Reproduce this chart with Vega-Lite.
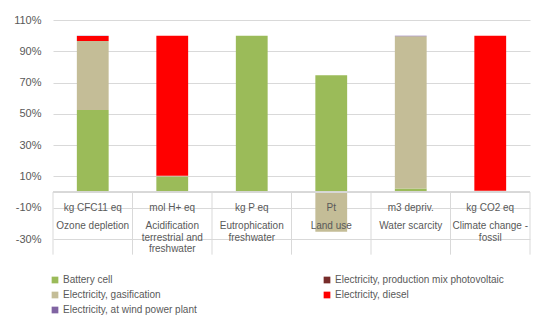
{
  "$schema": "https://vega.github.io/schema/vega-lite/v6.json",
  "width": 477,
  "height": 219,
  "autosize": "none",
  "padding": {"left": 53, "top": 20, "right": 20, "bottom": 88},
  "background": "white",
  "config": {
    "view": {"stroke": null},
    "font": "Liberation Sans",
    "axisY": {
      "title": null,
      "labelOverlap": false,
      "grid": true,
      "gridColor": "#D9D9D9",
      "domain": false,
      "ticks": false,
      "labelFontSize": 11,
      "labelColor": "#595959",
      "labelPadding": 12
    }
  },
  "datasets": {
    "bars": [
      {"cat": "Ozone depletion", "source": "Battery cell", "value": 52.5},
      {"cat": "Ozone depletion", "source": "Electricity, gasification", "value": 44.0},
      {"cat": "Ozone depletion", "source": "Electricity, diesel", "value": 3.2},
      {"cat": "Ozone depletion", "source": "Electricity, at wind power plant", "value": 0.3},
      {"cat": "Acidification", "source": "Battery cell", "value": 9.6},
      {"cat": "Acidification", "source": "Electricity, gasification", "value": 0.8},
      {"cat": "Acidification", "source": "Electricity, diesel", "value": 89.6},
      {"cat": "Eutrophication", "source": "Battery cell", "value": 100},
      {"cat": "Land use", "source": "Battery cell", "value": 74.7},
      {"cat": "Land use", "source": "Electricity, gasification", "value": -25.3},
      {"cat": "Water scarcity", "source": "Battery cell", "value": 2.3},
      {"cat": "Water scarcity", "source": "Electricity, gasification", "value": 97.3},
      {"cat": "Water scarcity", "source": "Electricity, at wind power plant", "value": 0.4},
      {"cat": "Climate change", "source": "Battery cell", "value": 0.3},
      {"cat": "Climate change", "source": "Electricity, gasification", "value": 0.6},
      {"cat": "Climate change", "source": "Electricity, diesel", "value": 99.1}
    ],
    "labels": [
      {"cat": "Ozone depletion", "unit": "kg CFC11 eq", "name": "Ozone depletion"},
      {"cat": "Acidification", "unit": "mol H+ eq", "name": "Acidification\nterrestrial and\nfreshwater"},
      {"cat": "Eutrophication", "unit": "kg P eq", "name": "Eutrophication\nfreshwater"},
      {"cat": "Land use", "unit": "Pt", "name": "Land use"},
      {"cat": "Water scarcity", "unit": "m3 depriv.", "name": "Water scarcity"},
      {"cat": "Climate change", "unit": "kg CO2 eq", "name": "Climate change -\nfossil"}
    ]
  },
  "layer": [
    {
      "data": {"name": "bars"},
      "transform": [
        {"calculate": "indexof(['Battery cell', 'Electricity, production mix photovoltaic', 'Electricity, gasification', 'Electricity, diesel', 'Electricity, at wind power plant'], datum.source)", "as": "stackOrder"}
      ],
      "mark": {"type": "bar", "width": {"band": 0.4}},
      "encoding": {
        "x": {
          "field": "cat",
          "type": "nominal",
          "axis": null,
          "sort": null,
          "scale": {
            "domain": ["Ozone depletion", "Acidification", "Eutrophication", "Land use", "Water scarcity", "Climate change"],
            "paddingInner": 0,
            "paddingOuter": 0
          }
        },
        "y": {
          "field": "value",
          "type": "quantitative",
          "stack": "zero",
          "scale": {"domain": [-30, 110], "nice": false, "zero": false},
          "axis": {"values": [-30, -10, 10, 30, 50, 70, 90, 110], "labelExpr": "datum.value + '%'"}
        },
        "order": {"field": "stackOrder", "type": "quantitative", "sort": "ascending"},
        "color": {
          "field": "source",
          "type": "nominal",
          "scale": {
            "domain": ["Battery cell", "Electricity, production mix photovoltaic", "Electricity, gasification", "Electricity, diesel", "Electricity, at wind power plant"],
            "range": ["#9BBB59", "#772C2A", "#C4BD97", "#FF0000", "#8064A2"]
          },
          "legend": {
            "orient": "none",
            "legendX": -3,
            "legendY": 255,
            "columns": 2,
            "direction": "horizontal",
            "title": null,
            "symbolType": "square",
            "symbolSize": 45,
            "symbolStrokeWidth": 0,
            "labelFontSize": 10,
            "labelColor": "#595959",
            "labelLimit": 300,
            "labelOffset": 3,
            "rowPadding": 5,
            "columnPadding": 125
          }
        }
      }
    },
    {
      "data": {"name": "labels"},
      "mark": {"type": "rule", "color": "#D9D9D9", "strokeWidth": 1},
      "encoding": {
        "y": {"datum": 0, "type": "quantitative", "axis": {"values": [-30, -10, 10, 30, 50, 70, 90, 110], "labelExpr": "datum.value + '%'"}}
      }
    },
    {
      "data": {"name": "labels"},
      "mark": {"type": "rule", "color": "#D9D9D9", "strokeWidth": 1},
      "encoding": {
        "x": {"field": "cat", "type": "nominal", "bandPosition": 0, "axis": null, "sort": null},
        "y": {"datum": 0, "type": "quantitative", "axis": {"values": [-30, -10, 10, 30, 50, 70, 90, 110], "labelExpr": "datum.value + '%'"}},
        "y2": {"datum": -40}
      }
    },
    {
      "data": {"name": "labels"},
      "transform": [{"filter": "datum.cat == 'Climate change'"}],
      "mark": {"type": "rule", "color": "#D9D9D9", "strokeWidth": 1},
      "encoding": {
        "x": {"field": "cat", "type": "nominal", "bandPosition": 1, "axis": null, "sort": null},
        "y": {"datum": 0, "type": "quantitative", "axis": {"values": [-30, -10, 10, 30, 50, 70, 90, 110], "labelExpr": "datum.value + '%'"}},
        "y2": {"datum": -40}
      }
    },
    {
      "data": {"name": "labels"},
      "mark": {"type": "text", "fontSize": 10, "color": "#595959", "baseline": "alphabetic", "align": "center"},
      "encoding": {
        "x": {"field": "cat", "type": "nominal", "axis": null, "sort": null},
        "y": {"datum": -12, "type": "quantitative", "axis": {"values": [-30, -10, 10, 30, 50, 70, 90, 110], "labelExpr": "datum.value + '%'"}},
        "text": {"field": "unit"}
      }
    },
    {
      "data": {"name": "labels"},
      "mark": {"type": "text", "fontSize": 10, "color": "#595959", "baseline": "alphabetic", "align": "center", "lineBreak": "\n", "lineHeight": 11.7},
      "encoding": {
        "x": {"field": "cat", "type": "nominal", "axis": null, "sort": null},
        "y": {"datum": -23.5, "type": "quantitative", "axis": {"values": [-30, -10, 10, 30, 50, 70, 90, 110], "labelExpr": "datum.value + '%'"}},
        "text": {"field": "name"}
      }
    }
  ]
}
